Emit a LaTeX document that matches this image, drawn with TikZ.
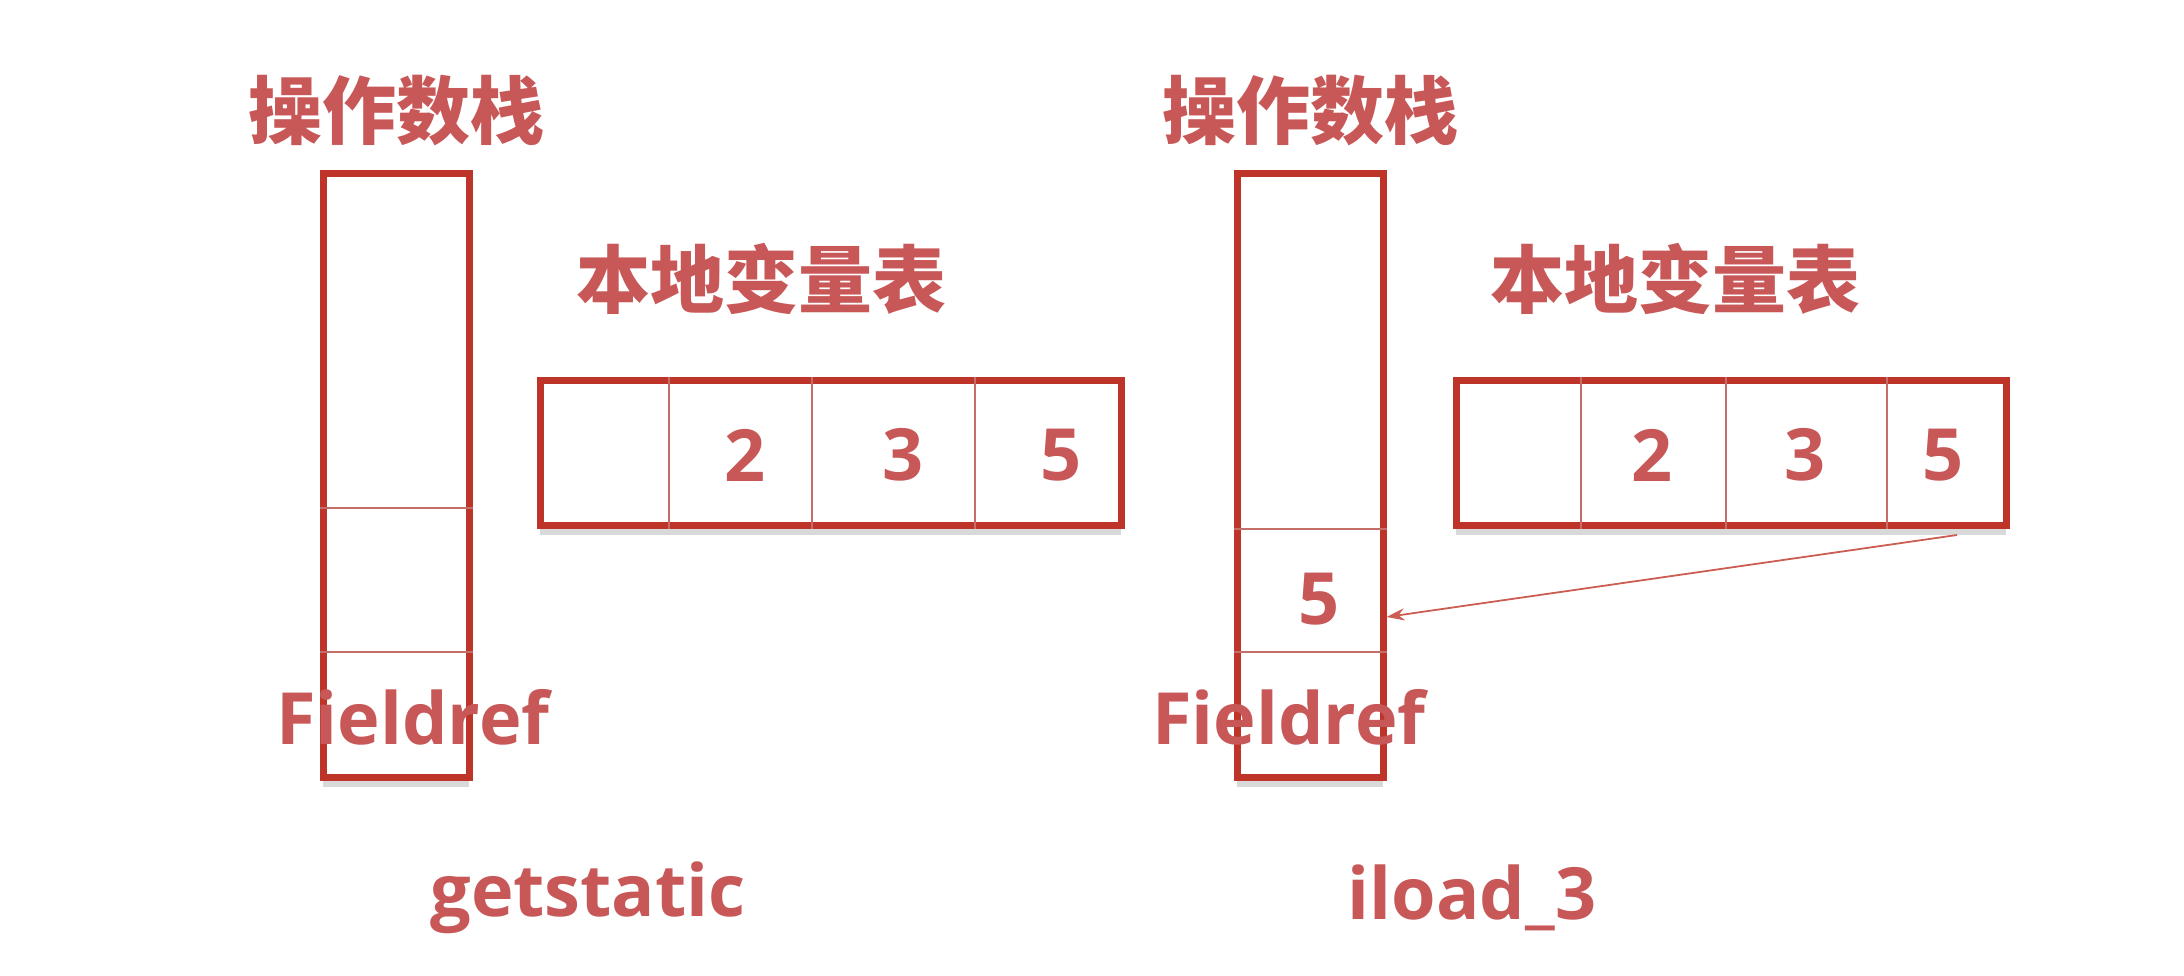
\documentclass[tikz,border=0pt]{standalone}
\usepackage{fontspec}
\setmainfont{Open Sans}
\newfontfamily\cjk{Noto Sans CJK SC}
\usetikzlibrary{shadows,arrows.meta}
\definecolor{boxred}{RGB}{190,52,40}
\definecolor{txtred}{RGB}{200,88,88}
\definecolor{divred}{RGB}{195,110,105}
\tikzset{
  title/.style={text=txtred,font=\cjk\bfseries\fontsize{74}{80}\selectfont,inner sep=0pt},
  lbl/.style={text=txtred,font=\bfseries\fontsize{72}{80}\selectfont,inner sep=0pt},
  num/.style={text=txtred,font=\bfseries\fontsize{72}{80}\selectfont,inner sep=0pt},
  frame/.style={draw=boxred,line width=7pt,fill=white,inner sep=0pt,
    drop shadow={shadow xshift=0pt,shadow yshift=-10pt,opacity=0.15,fill=black}},
  divider/.style={draw=divred,line width=1.8pt},
  conn/.style={draw=boxred!80!white,line width=1.8pt,-{Stealth[length=18pt,width=12pt]}}
}
\begin{document}
\begin{tikzpicture}[x=1pt,y=-1pt]
\useasboundingbox (0,0) rectangle (2184,976);
% ---------- left panel ----------
\node[title] (lt1) at (396,111) {操作数栈};
\node[frame,minimum width=146pt,minimum height=603pt] (ls) at (396,475.5) {};
\draw[divider] (ls.west |- 0,508) -- (ls.east |- 0,508);
\draw[divider] (ls.west |- 0,652) -- (ls.east |- 0,652);
\node[lbl] (lf) at (413,717) {Fieldref};
\node[title] (lt2) at (761,279) {本地变量表};
\node[frame,minimum width=581pt,minimum height=145pt] (lv) at (830.5,452.5) {};
\draw[divider] (669,0 |- lv.north) -- (669,0 |- lv.south);
\draw[divider] (812,0 |- lv.north) -- (812,0 |- lv.south);
\draw[divider] (975,0 |- lv.north) -- (975,0 |- lv.south);
\node[num] (l2) at (745,455) {2};
\node[num] (l3) at (903,455) {3};
\node[num] (l5) at (1061,455) {5};
\node[lbl] (lop) at (588,898) {getstatic};
% ---------- right panel ----------
\node[title] (rt1) at (1310,111) {操作数栈};
\node[frame,minimum width=146pt,minimum height=603pt] (rs) at (1310,475.5) {};
\draw[divider] (rs.west |- 0,529) -- (rs.east |- 0,529);
\draw[divider] (rs.west |- 0,652) -- (rs.east |- 0,652);
\node[num] (s5) at (1319,599) {5};
\node[lbl] (rf) at (1289,717) {Fieldref};
\node[title] (rt2) at (1675,279) {本地变量表};
\node[frame,minimum width=550pt,minimum height=145pt] (rv) at (1731,452.5) {};
\draw[divider] (1581,0 |- rv.north) -- (1581,0 |- rv.south);
\draw[divider] (1726,0 |- rv.north) -- (1726,0 |- rv.south);
\draw[divider] (1887,0 |- rv.north) -- (1887,0 |- rv.south);
\node[num] (r2) at (1652,455) {2};
\node[num] (r3) at (1805,455) {3};
\node[num] (r5) at (1943,455) {5};
\coordinate (src) at (1957,535);
\draw[conn] (src) -- (rs.east |- 0,617);
\node[lbl] (rop) at (1472,898) {iload\_3};
\end{tikzpicture}
\end{document}
